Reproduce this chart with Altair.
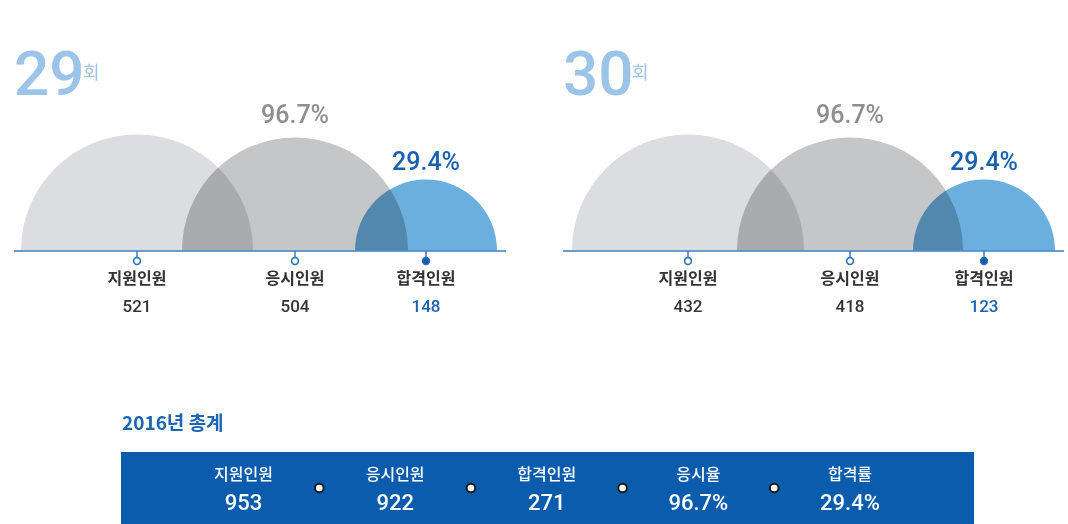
import math
import altair as alt
import pandas as pd

# ---------------- data ----------------
rounds = ["29", "30"]
round_suffix = "회"
categories = ["지원인원", "응시인원", "합격인원"]
counts_29 = [521, 504, 148]
counts_30 = [432, 418, 123]
rate_names = ["응시율", "합격률"]
rate_anchor = ["응시인원", "합격인원"]
rates_29 = ["96.7%", "29.4%"]
rates_30 = ["96.7%", "29.4%"]
total_title = "2016년 총계"
total_labels = ["지원인원", "응시인원", "합격인원", "응시율", "합격률"]
total_values = ["953", "922", "271", "96.7%", "29.4%"]

# ---------------- styles ----------------
FONT_KR = "Noto Sans CJK KR"
FONT_NUM = "Roboto"
ARC_RADIUS = [116, 113, 71]
ARC_FILL = ["#dcdde0", "#c5c6c8", "#6aafdd"]
SLOT_PX = [137, 295, 426, 688, 850, 984]
ROUND_PX = [14, 563]
LINE_BLUE = "#3a7cc3"
DARK = "#333333"
BLUE = "#1a62b2"
LIGHT_BLUE = "#9cc4e8"

# ---------------- tables ----------------
count_rows, rate_rows = [], []
for ri, (r, vals, rts) in enumerate(zip(rounds, [counts_29, counts_30], [rates_29, rates_30])):
    for ci, (c, v) in enumerate(zip(categories, vals)):
        count_rows.append({"round": r, "category": c, "count": str(v), "slot": ri * 3 + ci})
    for name, anchor, txt in zip(rate_names, rate_anchor, rts):
        rate_rows.append({"round": r, "rate": name, "text": txt,
                          "slot": ri * 3 + categories.index(anchor)})
counts_df = pd.DataFrame(count_rows)
rates_df = pd.DataFrame(rate_rows)
rounds_df = pd.DataFrame({"round": rounds, "ri": list(range(len(rounds))), "suffix": round_suffix})
total_df = pd.DataFrame({"label": total_labels, "value": total_values,
                         "idx": list(range(len(total_labels)))})
title_df = pd.DataFrame({"title": [total_title]})

x_slot = alt.X("slot:Q", stack=False,
               scale=alt.Scale(domain=list(range(6)), range=SLOT_PX), axis=None)
x_round = alt.X("ri:Q", stack=False, scale=alt.Scale(domain=[0, 1], range=ROUND_PX), axis=None)
x_suffix = alt.X("ri:Q", stack=False, scale=alt.Scale(domain=[0, 1], range=[83, 632]), axis=None)
x_total = alt.X("idx:Q", stack=False, scale=alt.Scale(domain=[0, 4], range=[243.5, 850]), axis=None)

layers = []


def baseline(ri):
    left = ROUND_PX[ri]
    return (
        alt.Chart(rounds_df).transform_filter(alt.datum.ri == ri)
        .mark_rule(color=LINE_BLUE, strokeWidth=1.5)
        .encode(x=alt.value(left), x2=alt.value(left + 492 + 9 * ri), y=alt.value(251))
    )


# half discs
for ci, c in enumerate(categories):
    layers.append(
        alt.Chart(counts_df).transform_filter(alt.datum.category == c)
        .mark_arc(radius=ARC_RADIUS[ci], theta=1.5 * math.pi, theta2=2.5 * math.pi,
                  fill=ARC_FILL[ci], blend="multiply")
        .encode(x=x_slot, y=alt.value(250.5))
    )

# baselines over discs
for ri in range(len(rounds)):
    layers.append(baseline(ri))

# marker stems and dots
layers.append(
    alt.Chart(counts_df).mark_rule(color=LINE_BLUE, strokeWidth=1.5)
    .encode(x=x_slot, y=alt.value(251), y2=alt.value(257))
)
layers.append(
    alt.Chart(counts_df).mark_point(shape="circle", size=48, strokeWidth=1.5,
                                    stroke="#2a6db8", opacity=1)
    .encode(x=x_slot, y=alt.value(261),
            fill=alt.Fill("category:N", scale=alt.Scale(domain=categories,
                          range=["#ffffff", "#ffffff", "#0d5cab"]), legend=None))
)

# category labels and counts
layers.append(
    alt.Chart(counts_df).mark_text(font=FONT_KR, fontSize=16, fontWeight="bold",
                                   color=DARK, baseline="middle")
    .encode(x=x_slot, y=alt.value(279), text="category:N")
)
layers.append(
    alt.Chart(counts_df).mark_text(font=FONT_NUM, fontSize=17, fontWeight=500,
                                   baseline="middle")
    .encode(x=x_slot, y=alt.value(307), text="count:N",
            color=alt.Color("category:N", scale=alt.Scale(domain=categories,
                            range=[DARK, DARK, BLUE]), legend=None))
)

# rates above discs
layers.append(
    alt.Chart(rates_df).mark_text(font=FONT_NUM, fontSize=25, fontWeight=500,
                                  baseline="alphabetic")
    .encode(x=x_slot,
            y=alt.Y("rate:N", scale=alt.Scale(type="point", domain=rate_names,
                                              range=[123, 170], padding=0), axis=None),
            text="text:N",
            color=alt.Color("rate:N", scale=alt.Scale(domain=rate_names,
                            range=["#8d8e90", "#1860b0"]), legend=None))
)

# round titles
layers.append(
    alt.Chart(rounds_df).mark_text(font=FONT_NUM, fontSize=62, fontWeight=500,
                                   color=LIGHT_BLUE, align="left", baseline="alphabetic")
    .encode(x=x_round, y=alt.value(95), text="round:N")
)
layers.append(
    alt.Chart(rounds_df).mark_text(font=FONT_KR, fontSize=18, color=LIGHT_BLUE,
                                   align="left", baseline="middle")
    .encode(x=x_suffix, y=alt.value(74), text="suffix:N")
)

# summary
layers.append(
    alt.Chart(title_df).mark_text(font=FONT_KR, fontSize=19, fontWeight="bold",
                                  color="#1b66b4", align="left", baseline="middle")
    .encode(x=alt.value(122), y=alt.value(424), text="title:N")
)
layers.append(
    alt.Chart(title_df).mark_rect(color="#0b5cad")
    .encode(x=alt.value(121), x2=alt.value(974), y=alt.value(452), y2=alt.value(530))
)
layers.append(
    alt.Chart(total_df).mark_text(font=FONT_KR, fontSize=16, fontWeight=500,
                                  color="white", baseline="middle")
    .encode(x=x_total, y=alt.value(475), text="label:N")
)
layers.append(
    alt.Chart(total_df).mark_text(font=FONT_NUM, fontSize=22, fontWeight=500,
                                  color="white", baseline="middle")
    .encode(x=x_total, y=alt.value(503), text="value:N")
)
layers.append(
    alt.Chart(total_df).transform_filter(alt.datum.idx < len(total_labels) - 1)
    .transform_calculate(mid="datum.idx + 0.5")
    .mark_point(shape="circle", size=75, fill="white", stroke="#1a1a1a",
                strokeWidth=2, opacity=1)
    .encode(x=alt.X("mid:Q", stack=False,
                    scale=alt.Scale(domain=[0, 4], range=[243.5, 850]), axis=None),
            y=alt.value(488))
)

chart = (
    alt.layer(*layers)
    .resolve_scale(x="independent", y="independent", color="independent", fill="independent")
    .properties(width=1068, height=524, padding=0, autosize=alt.AutoSizeParams(type="none"),
                background="white")
    .configure_view(strokeWidth=0)
)

chart.save("out.html", embed_options={"renderer": "svg", "actions": False})
